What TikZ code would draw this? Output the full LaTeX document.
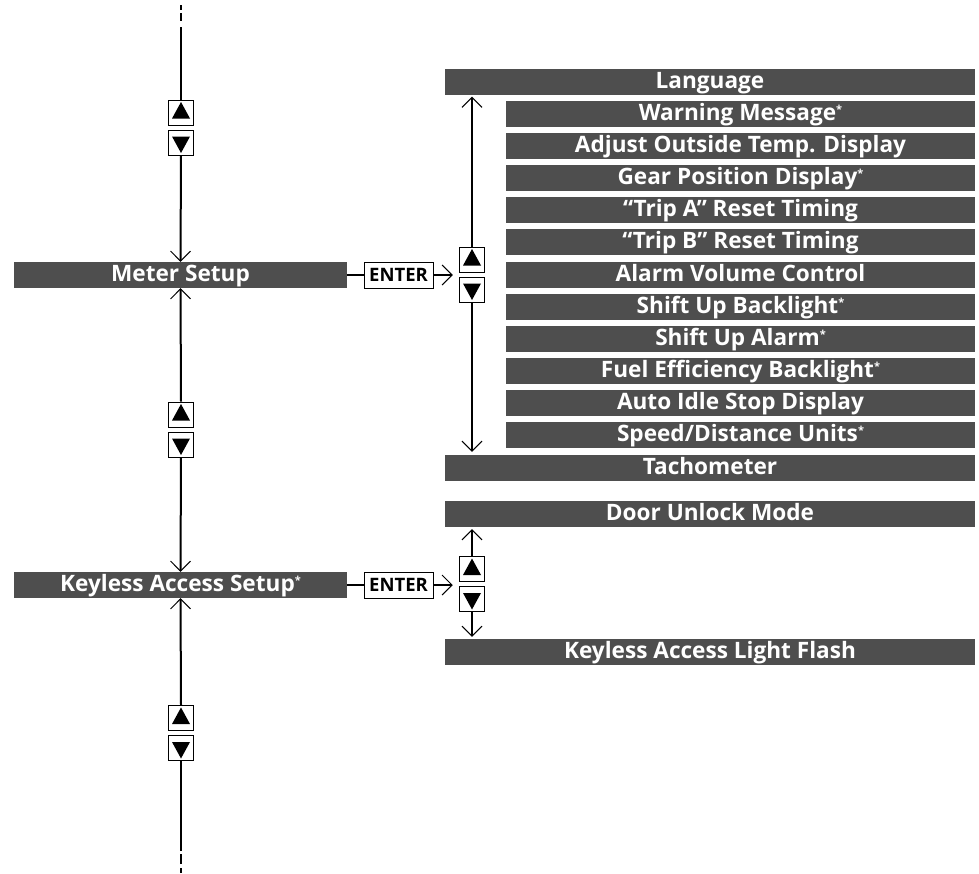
\documentclass[tikz,border=0pt]{standalone}
\usepackage{fontspec}
\setmainfont{Open Sans}
\usetikzlibrary{arrows.meta,calc}
\definecolor{barfill}{RGB}{78,78,78}
\newcommand{\nstar}{{\fontsize{11}{11}\selectfont\raisebox{7pt}{*}}}
\begin{document}
\begin{tikzpicture}[x=1pt,y=-1pt,
  bar/.style={fill=barfill, text=white, inner sep=0pt, minimum height=26pt,
    text height=19.5pt, text depth=6.5pt, font=\fontsize{22.6}{22.6}\selectfont\bfseries},
  wide/.style={bar, minimum width=530pt},
  inner/.style={bar, minimum width=469pt},
  leftbar/.style={bar, minimum width=333pt},
  tribox/.style={draw, line width=1pt, minimum width=25.5pt, minimum height=25pt,
    inner sep=0pt, fill=white},
  upbox/.style={tribox, path picture={\fill[black]
    ([shift={(-9,6)}]path picture bounding box.center) --
    ([shift={(9,6)}]path picture bounding box.center) --
    ([shift={(0,-10.5)}]path picture bounding box.center) -- cycle;}},
  downbox/.style={tribox, path picture={\fill[black]
    ([shift={(-9,-6)}]path picture bounding box.center) --
    ([shift={(9,-6)}]path picture bounding box.center) --
    ([shift={(0,10.5)}]path picture bounding box.center) -- cycle;}},
  enterbox/.style={draw, line width=1pt, minimum width=69pt, minimum height=26pt,
    inner sep=0pt, text height=13pt, text depth=0pt, font=\fontsize{18.5}{18.5}\selectfont\bfseries},
  conn/.style={line width=2pt},
  arr/.style={line width=2pt, -{Straight Barb[length=10pt,width=20pt,line width=1pt]}},
]
\useasboundingbox (0,0) rectangle (979,873);

% left column
\node[leftbar] (meter) at (180.5,275) {Meter Setup};
\node[leftbar] (keyless) at (180.5,585) {Keyless Access Setup\nstar};

\node[upbox] (u1) at (181,112.5) {};
\node[downbox] (d1) at (181,142.5) {};
\node[upbox] (u2) at (181,414.5) {};
\node[downbox] (d2) at (181,444.5) {};
\node[upbox] (u3) at (181,718) {};
\node[downbox] (d3) at (181,748) {};

\coordinate (topend) at (181,5);
\coordinate (botend) at (181,873);
\draw[conn, dash pattern=on 5pt off 3pt on 8pt off 6pt on 200pt] (topend) -- (u1.north);
\draw[conn, dash pattern=on 5pt off 4pt on 10pt off 3pt on 300pt] (botend) -- (d3.south);
\draw[arr] (d1.south) -- (meter.north);
\draw[arr] (u2.north) -- (meter.south);
\draw[arr] (d2.south) -- (keyless.north);
\draw[arr] (u3.north) -- (keyless.south);

% enter boxes
\node[enterbox] (enter1) at (398.5,275) {ENTER};
\node[enterbox] (enter2) at (398.5,585) {ENTER};

% right column bars
\node[wide] (lang) at (710,81.5) {Language};
\node[inner] (b1) at (740.5,114) {Warning Message\nstar};
\node[inner] (b2) at (740.5,146.1) {Adjust Outside Temp. Display};
\node[inner] (b3) at (740.5,178.2) {Gear Position Display\nstar};
\node[inner] (b4) at (740.5,210.3) {“Trip A” Reset Timing};
\node[inner] (b5) at (740.5,242.4) {“Trip B” Reset Timing};
\node[inner] (b6) at (740.5,274.5) {Alarm Volume Control};
\node[inner] (b7) at (740.5,306.6) {Shift Up Backlight\nstar};
\node[inner] (b8) at (740.5,338.7) {Shift Up Alarm\nstar};
\node[inner] (b9) at (740.5,370.8) {Fuel Efficiency Backlight\nstar};
\node[inner] (b10) at (740.5,402.9) {Auto Idle Stop Display};
\node[inner] (b11) at (740.5,435) {Speed/Distance Units\nstar};
\node[wide] (tach) at (710,468) {Tachometer};
\node[wide] (door) at (710,514) {Door Unlock Mode};
\node[wide] (klf) at (710,652) {Keyless Access Light Flash};

\node[upbox] (ru1) at (472,259.5) {};
\node[downbox] (rd1) at (472,289.5) {};
\node[upbox] (ru2) at (472,569) {};
\node[downbox] (rd2) at (472,599) {};

\draw[arr, shorten >=2pt] (ru1.north) -- (ru1.north |- lang.south);
\draw[arr, shorten >=3pt] (rd1.south) -- (rd1.south |- tach.north);
\draw[arr, shorten >=2pt] (ru2.north) -- (ru2.north |- door.south);
\draw[arr, shorten >=2pt] (rd2.south) -- (rd2.south |- klf.north);

% enter connectors
\draw[conn] (meter.east) -- (enter1.west);
\draw[arr, shorten >=6pt] (enter1.east) -- (ru1.west |- enter1.east);
\draw[conn] (keyless.east) -- (enter2.west);
\draw[arr, shorten >=6pt] (enter2.east) -- (ru2.west |- enter2.east);
\end{tikzpicture}
\end{document}
